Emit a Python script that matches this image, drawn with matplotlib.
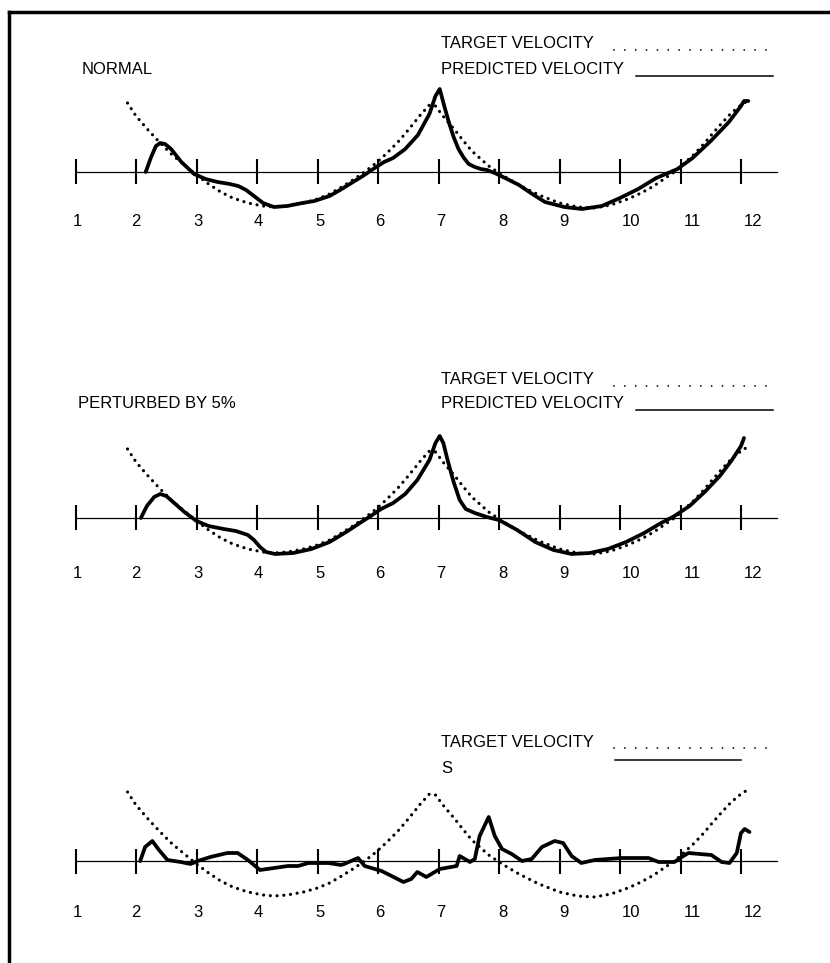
import matplotlib
matplotlib.use("Agg")
import matplotlib.pyplot as plt
from matplotlib.lines import Line2D

plt.rcParams["font.family"] = ["Liberation Sans", "DejaVu Sans"]

# ---- data (velocity in arbitrary units) ----
tick_pos = [1, 2, 3, 4, 5, 6, 7, 8, 9, 10, 11, 12]
tick_labels = ["1", "2", "3", "4", "5", "6", "7", "8", "9", "10", "11", "12"]

target_x = [1.86, 2.0, 2.2, 2.4, 2.6, 2.8, 3.0, 3.2, 3.4, 3.6, 3.85, 4.1, 4.28,
            4.5, 4.77, 5.0, 5.2, 5.4, 5.61, 5.8, 5.97, 6.15, 6.33, 6.5, 6.7,
            6.85, 6.95, 7.1, 7.27, 7.4, 7.55, 7.7, 7.83, 8.05, 8.33, 8.66, 9.0,
            9.3, 9.58, 9.85, 10.13, 10.35, 10.56, 10.75, 10.9, 11.05, 11.23,
            11.4, 11.51, 11.7, 11.84, 12.0, 12.08, 12.15]
target_v = [69, 56, 42, 29, 17, 7, -3, -12, -20, -26, -31, -34, -35,
            -34, -31, -27, -22, -15, -7, 1, 9, 19, 30, 42, 57,
            67, 66, 54, 42, 32, 21, 13, 6, -3, -13, -23, -31,
            -35, -36, -33, -27, -21, -14, -6, 0, 8, 18,
            29, 37, 50, 59, 67, 70, 70]

normal_x = [2.16, 2.25, 2.33, 2.40, 2.48, 2.58, 2.75, 2.96, 3.15, 3.35, 3.55,
            3.69, 3.82, 3.95, 4.10, 4.28, 4.5, 4.75, 4.95, 5.2, 5.4, 5.56,
            5.75, 5.92, 6.1, 6.25, 6.45, 6.66, 6.85, 6.95, 7.02, 7.1, 7.17,
            7.25, 7.33, 7.42, 7.5, 7.6, 7.7, 7.8, 7.93, 8.1, 8.33, 8.55, 8.76,
            9.08, 9.37, 9.7, 10.0, 10.3, 10.6, 10.95, 11.2, 11.5, 11.8, 12.0,
            12.05, 12.12]
normal_v = [0, 15, 26, 29, 28, 23, 10, -2, -7, -10, -12,
            -14, -18, -24, -31, -35, -34, -31, -29, -24, -17, -11,
            -4, 3, 10, 14, 23, 37, 58, 76, 83, 65, 50,
            35, 23, 14, 8, 5, 3, 2, -1, -6, -13, -22, -30,
            -35, -37, -34, -26, -17, -6, 3, 14, 31, 50, 66,
            71, 71]

perturbed_x = [2.08, 2.18, 2.3, 2.4, 2.5, 2.65, 2.8, 3.0, 3.2, 3.45, 3.65, 3.85,
               3.95, 4.05, 4.15, 4.3, 4.6, 4.9, 5.2, 5.5, 5.7, 5.88, 6.05,
               6.25, 6.45, 6.65, 6.85, 6.95, 7.02, 7.08, 7.15, 7.25, 7.35,
               7.45, 7.6, 7.8, 8.0, 8.3, 8.6, 8.9, 9.2, 9.5, 9.8, 10.1,
               10.4, 10.65, 10.9, 11.15, 11.4, 11.65, 11.85, 12.0, 12.05]
perturbed_v = [0, 12, 21, 24, 22, 14, 6, -3, -8, -11, -13, -17,
               -22, -29, -34, -36, -35, -31, -24, -13, -5, 2, 9,
               15, 24, 38, 58, 75, 82, 75, 58, 36, 18,
               9, 5, 1, -2, -12, -24, -32, -36, -35, -31, -24,
               -15, -6, 2, 12, 26, 42, 58, 72, 80]

s_x = [2.07, 2.15, 2.27, 2.38, 2.52, 2.74, 2.9, 3.02, 3.23, 3.51, 3.68, 3.85,
       4.05, 4.28, 4.51, 4.68, 4.85, 5.18, 5.39, 5.44, 5.67, 5.78, 6.06,
       6.42, 6.55, 6.65, 6.8, 7.02, 7.3, 7.35, 7.52, 7.6, 7.68, 7.83, 7.93,
       8.05, 8.21, 8.38, 8.54, 8.71, 8.92, 9.06, 9.2, 9.36, 9.58, 10.03,
       10.47, 10.64, 10.9, 11.02, 11.13, 11.51, 11.68, 11.81, 11.93, 12.0,
       12.06, 12.14]
s_v = [0, 14, 20, 11, 1, -1, -3, 0, 4, 8, 8, 1,
       -9, -7, -5, -5, -2, -2, -4, -3, 3, -5, -10,
       -21, -18, -11, -16, -8, -5, 5, -1, 2, 25, 44, 25,
       12, 7, 0, 2, 14, 20, 18, 5, -2, 1, 3,
       3, -1, -1, 4, 8, 6, -1, -2, 8, 28,
       32, 29]

panels = [
    {"title": "NORMAL", "second": "PREDICTED VELOCITY", "x": normal_x, "v": normal_v,
     "band": (0, 345), "axis_y": 172, "text_y": (44, 70), "title_x": 82,
     "label_gap": 50, "line": (636, 773)},
    {"title": "PERTURBED BY 5%", "second": "PREDICTED VELOCITY", "x": perturbed_x,
     "v": perturbed_v, "band": (345, 690), "axis_y": 518, "text_y": (380, 404),
     "title_x": 78, "label_gap": 55, "line": (636, 773)},
    {"title": None, "second": "S", "x": s_x, "v": s_v,
     "band": (690, 963), "axis_y": 861, "text_y": (742, 768), "title_x": 82,
     "label_gap": 51, "line": (615, 741)},
]

W, H = 830, 963
X0, DX = 75.5, 60.5          # pixel of tick 1, pixels per unit
label_shift = [0.03, 0.0, 0.03, 0.02, 0.04, 0.03, 0.04, 0.07, 0.07, 0.18, 0.19, 0.2]


def px_x(px):
    return 1 + (px - X0) / DX


fig = plt.figure(figsize=(W / 100, H / 100), dpi=100)

for p in panels:
    top, bot = p["band"]
    ay = p["axis_y"]
    ax = fig.add_axes([0, 1 - bot / H, 1, (bot - top) / H])
    ax.set_xlim(px_x(0), px_x(W))
    ax.set_ylim(ay - bot, ay - top)
    ax.axis("off")

    # baseline with crossing ticks
    ax.plot([1, 12.6], [0, 0], color="black", lw=0.9)
    ax.vlines(tick_pos, -12.5, 12.5, color="black", lw=1.5)
    for t, lab, sh in zip(tick_pos, tick_labels, label_shift):
        ax.text(t + sh, -p["label_gap"], lab, ha="center", va="center", fontsize=12)

    # curves
    ax.plot(target_x, target_v, color="black", lw=2.3, linestyle=(0, (0.01, 2.1)),
            dash_capstyle="round")
    ax.plot(p["x"], p["v"], color="black", lw=2.7, solid_joinstyle="round",
            solid_capstyle="round")

    # legend-like labels
    ty1, ty2 = p["text_y"]
    ax.text(px_x(441), ay - ty1, "TARGET VELOCITY", ha="left", va="center", fontsize=12)
    ax.plot([px_x(614), px_x(770)], [ay - ty1 - 6, ay - ty1 - 6], color="black",
            lw=1.3, linestyle=(0, (0.01, 6)), dash_capstyle="round")
    ax.text(px_x(441), ay - ty2, p["second"], ha="left", va="center", fontsize=12)
    l0, l1 = p["line"]
    lift = 6 if p["title"] else -8
    ax.plot([px_x(l0), px_x(l1)], [ay - ty2 - lift, ay - ty2 - lift], color="black",
            lw=1.1)
    if p["title"]:
        ax.text(px_x(p["title_x"]), ay - ty2, p["title"], ha="left", va="center",
                fontsize=12)

# page frame (top and left edges of the scanned box)
fig.add_artist(Line2D([9 / W, 1.0], [1 - 12 / H, 1 - 12 / H], color="black", lw=2.5))
fig.add_artist(Line2D([9 / W, 9 / W], [0.0, 1 - 12 / H], color="black", lw=2.5))

fig.savefig("out.png", dpi=100, facecolor="white")
plt.close(fig)
